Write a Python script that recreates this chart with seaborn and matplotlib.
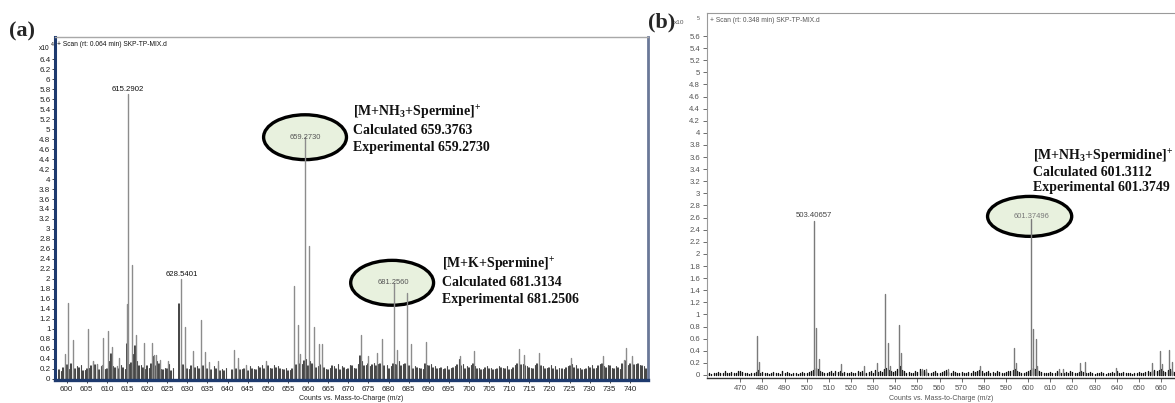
import numpy as np
import pandas as pd
import matplotlib
matplotlib.use("Agg")
import matplotlib.pyplot as plt
import seaborn as sns
from matplotlib.patches import Ellipse
from matplotlib.ticker import FuncFormatter

# ---------------- data: panel (a)  (intensity in units of 1e4) ----------------
a_peak_mz = [599.5, 600.4, 601.5, 605.4, 606.6, 607.6, 608.7, 609.1, 610.2, 611.2,
             612.4, 613.1, 615.29, 615.1, 616.2, 617.2, 619.2, 621.2, 621.8, 622.2,
             623.1, 625.2, 628.54, 629.5, 631.3, 633.5, 634.5, 635.5, 637.5, 641.5,
             642.5, 644.5, 649.5, 656.6, 657.5, 658.1, 659.27, 660.3, 661.5, 662.6,
             663.4, 673.2, 675.0, 677.1, 678.4, 681.26, 682.2, 684.6, 685.5, 689.3,
             697.7, 701.2, 712.4, 713.8, 717.3, 725.4, 733.3, 738.5, 739.1, 740.5]
a_peak_int = [0.50, 1.52, 0.77, 1.00, 0.35, 0.30, 0.28, 0.82, 0.95, 0.63,
              0.25, 0.42, 5.70, 1.50, 2.28, 0.87, 0.72, 0.72, 0.48, 0.48,
              0.38, 0.35, 2.00, 1.04, 0.55, 1.17, 0.53, 0.33, 0.35, 0.57,
              0.42, 0.28, 0.35, 1.85, 1.08, 0.49, 4.84, 2.66, 1.03, 0.69,
              0.70, 0.87, 0.45, 0.52, 0.80, 1.92, 0.58, 1.72, 0.69, 0.73,
              0.45, 0.55, 0.60, 0.48, 0.52, 0.42, 0.45, 0.37, 0.62, 0.45]

a_noise1_mz = list(range(598, 745))
a_noise1 = [0.18, 0.22, 0.28, 0.30, 0.20, 0.22, 0.15, 0.20, 0.25, 0.28,
            0.18, 0.22, 0.20, 0.50, 0.22, 0.20, 0.22, 0.70, 0.32, 0.65,
            0.25, 0.22, 0.25, 0.30, 0.25, 0.30, 0.18, 0.20, 0.15, 0.00,
            1.50, 0.28, 0.20, 0.25, 0.22, 0.20, 0.25, 0.20, 0.18, 0.20,
            0.15, 0.15, 0.00, 0.18, 0.20, 0.18, 0.20, 0.15, 0.20, 0.18,
            0.22, 0.20, 0.25, 0.20, 0.22, 0.20, 0.18, 0.15, 0.20, 0.28,
            0.30, 0.35, 0.25, 0.30, 0.22, 0.28, 0.22, 0.18, 0.25, 0.20,
            0.18, 0.22, 0.20, 0.25, 0.20, 0.45, 0.25, 0.30, 0.28, 0.25,
            0.30, 0.25, 0.20, 0.30, 0.28, 0.25, 0.30, 0.25, 0.20, 0.22,
            0.20, 0.30, 0.25, 0.22, 0.20, 0.22, 0.20, 0.18, 0.22, 0.28,
            0.25, 0.20, 0.22, 0.30, 0.20, 0.18, 0.22, 0.20, 0.18, 0.20,
            0.22, 0.20, 0.18, 0.22, 0.30, 0.28, 0.25, 0.22, 0.20, 0.30,
            0.25, 0.20, 0.22, 0.20, 0.18, 0.20, 0.22, 0.25, 0.22, 0.20,
            0.18, 0.20, 0.22, 0.20, 0.25, 0.30, 0.22, 0.25, 0.20, 0.22,
            0.30, 0.35, 0.30, 0.28, 0.30, 0.25, 0.20]
a_noise2_mz = [m + 0.5 for m in range(598, 744)]
a_noise2 = [0.15, 0.25, 0.20, 0.18, 0.25, 0.28, 0.18, 0.22, 0.35, 0.30,
            0.25, 0.20, 0.35, 0.25, 0.22, 0.28, 0.20, 0.30, 0.50, 0.35,
            0.28, 0.20, 0.22, 0.45, 0.35, 0.20, 0.22, 0.30, 0.22, 0.00,
            0.30, 0.25, 0.20, 0.30, 0.25, 0.22, 0.30, 0.20, 0.25, 0.28,
            0.20, 0.22, 0.00, 0.20, 0.25, 0.20, 0.22, 0.25, 0.20, 0.25,
            0.28, 0.30, 0.22, 0.28, 0.25, 0.20, 0.22, 0.18, 0.25, 0.38,
            0.30, 0.40, 0.35, 0.30, 0.25, 0.28, 0.20, 0.22, 0.25, 0.30,
            0.25, 0.20, 0.28, 0.22, 0.30, 0.35, 0.28, 0.25, 0.32, 0.30,
            0.35, 0.28, 0.25, 0.30, 0.35, 0.30, 0.32, 0.28, 0.25, 0.22,
            0.20, 0.28, 0.30, 0.25, 0.22, 0.20, 0.25, 0.22, 0.25, 0.40,
            0.30, 0.25, 0.28, 0.25, 0.22, 0.20, 0.25, 0.22, 0.20, 0.25,
            0.22, 0.25, 0.20, 0.28, 0.35, 0.30, 0.25, 0.22, 0.28, 0.30,
            0.25, 0.22, 0.28, 0.25, 0.22, 0.20, 0.25, 0.30, 0.28, 0.22,
            0.20, 0.25, 0.28, 0.22, 0.30, 0.25, 0.28, 0.22, 0.25, 0.20,
            0.30, 0.28, 0.35, 0.30, 0.28, 0.25]

a_labels = [(615.29, 5.70, "615.2902"), (628.54, 2.00, "628.5401")]
a_circled = [(659.27, 4.84, "659.2730"), (681.26, 1.92, "681.2560")]

# ---------------- data: panel (b)  (intensity in units of 1e5) ----------------
b_peak_mz = [477.5, 478.3, 503.41, 504.4, 505.5, 515.6, 525.7, 531.8, 535.6, 536.6,
             537.6, 541.8, 542.4, 552.0, 553.7, 564.0, 578.2, 593.8, 594.6, 601.37,
             602.4, 603.4, 604.2, 613.8, 615.8, 623.5, 625.5, 639.5, 655.8, 659.4,
             660.4, 663.8, 664.8]
b_peak_int = [0.64, 0.22, 2.55, 0.78, 0.27, 0.18, 0.14, 0.20, 1.33, 0.52,
              0.14, 0.83, 0.36, 0.10, 0.10, 0.10, 0.15, 0.45, 0.20, 2.58,
              0.76, 0.60, 0.15, 0.10, 0.10, 0.20, 0.22, 0.12, 0.20, 0.40,
              0.18, 0.42, 0.22]
b_noise_mz = list(range(455, 668))
b_noise = [0.02, 0.03, 0.02, 0.04, 0.03, 0.05, 0.03, 0.04, 0.06, 0.03,
           0.04, 0.05, 0.03, 0.04, 0.06, 0.07, 0.05, 0.03, 0.04, 0.02,
           0.03, 0.04, 0.05, 0.08, 0.04, 0.05, 0.03, 0.04, 0.02, 0.03,
           0.05, 0.04, 0.03, 0.02, 0.06, 0.04, 0.05, 0.03, 0.02, 0.04,
           0.03, 0.02, 0.04, 0.05, 0.03, 0.04, 0.05, 0.06, 0.08, 0.12,
           0.10, 0.06, 0.05, 0.03, 0.04, 0.05, 0.06, 0.04, 0.07, 0.05,
           0.06, 0.04, 0.05, 0.03, 0.04, 0.05, 0.03, 0.04, 0.06, 0.05,
           0.07, 0.04, 0.03, 0.05, 0.06, 0.04, 0.08, 0.05, 0.06, 0.05,
           0.10, 0.12, 0.08, 0.06, 0.05, 0.07, 0.10, 0.15, 0.08, 0.06,
           0.04, 0.05, 0.03, 0.04, 0.06, 0.05, 0.10, 0.06, 0.08, 0.05,
           0.03, 0.04, 0.05, 0.06, 0.04, 0.03, 0.05, 0.06, 0.09, 0.05,
           0.04, 0.06, 0.05, 0.04, 0.03, 0.05, 0.04, 0.03, 0.05, 0.04,
           0.06, 0.05, 0.07, 0.08, 0.06, 0.04, 0.05, 0.06, 0.04, 0.05,
           0.04, 0.06, 0.05, 0.04, 0.03, 0.05, 0.06, 0.07, 0.08, 0.10,
           0.06, 0.05, 0.04, 0.03, 0.05, 0.06, 0.08, 0.12, 0.10, 0.08,
           0.06, 0.05, 0.04, 0.03, 0.04, 0.05, 0.03, 0.04, 0.06, 0.05,
           0.04, 0.03, 0.05, 0.04, 0.06, 0.05, 0.03, 0.04, 0.05, 0.06,
           0.05, 0.04, 0.03, 0.05, 0.04, 0.02, 0.03, 0.04, 0.05, 0.03,
           0.02, 0.03, 0.04, 0.05, 0.03, 0.06, 0.04, 0.03, 0.05, 0.04,
           0.03, 0.04, 0.02, 0.03, 0.04, 0.05, 0.03, 0.04, 0.05, 0.06,
           0.05, 0.06, 0.08, 0.07, 0.09, 0.10, 0.06, 0.05, 0.08, 0.10,
           0.07, 0.05, 0.04]
b_labels = [(503.41, 2.55, "503.40657")]
b_circled = [(601.37, 2.58, "601.37496")]

a_xticks = list(range(600, 741, 5))
a_yticks = [round(0.2 * i, 1) for i in range(0, 33)]
b_xticks = list(range(470, 661, 10))
b_yticks = [round(0.2 * i, 1) for i in range(0, 29)]

# ---------------- style ----------------
sns.set_theme(style="white")
plt.rcParams["font.family"] = ["Liberation Sans", "DejaVu Sans"]
plt.rcParams["mathtext.fontset"] = "custom"
plt.rcParams["mathtext.rm"] = "Liberation Serif:bold"
plt.rcParams["mathtext.it"] = "Liberation Serif:bold"
plt.rcParams["mathtext.bf"] = "Liberation Serif:bold"

W, H = 1175, 403
fig = plt.figure(figsize=(W / 100, H / 100), dpi=100)
fig.patch.set_facecolor("white")


def rect(l, t, r, b):
    return [l / W, 1 - b / H, (r - l) / W, (b - t) / H]


def fy(ypx):
    return 1 - ypx / H


def sticks(ax, mz, inten, color, lw, z=2):
    n = len(mz)
    df = pd.DataFrame({
        "mz": np.repeat(np.asarray(mz, float), 2),
        "I": np.column_stack([np.zeros(n), np.asarray(inten, float)]).ravel(),
        "pid": np.repeat(np.arange(n), 2),
    })
    sns.lineplot(data=df, x="mz", y="I", units="pid", estimator=None, sort=False,
                 color=color, lw=lw, ax=ax, legend=False, zorder=z)


fmt = FuncFormatter(lambda v, p: f"{v:g}")

# ---------------- panel (a) ----------------
axA = fig.add_axes(rect(55, 37, 648, 380))
sticks(axA, a_noise1_mz, a_noise1, "#111111", 1.1)
sticks(axA, a_noise2_mz, a_noise2, "#4a4a4a", 0.8)
sticks(axA, a_peak_mz, a_peak_int, "#8c8c8c", 1.0, z=2.5)
axA.set_xlim(597.1, 744.5)
axA.set_ylim(-0.03, 6.85)
axA.set_xticks(a_xticks)
axA.set_yticks(a_yticks)
axA.yaxis.set_major_formatter(fmt)
axA.tick_params(axis="both", labelsize=5.8, colors="#222222", length=2.5, width=0.6,
                pad=1.5, left=True, bottom=True)
axA.tick_params(axis="y", pad=0.8)
axA.set_xlabel("")
axA.set_ylabel("")
axA.spines["top"].set_color("#a8a8a8")
axA.spines["top"].set_linewidth(1.0)
axA.spines["left"].set_color("#1e3a6e")
axA.spines["left"].set_linewidth(2.2)
axA.spines["bottom"].set_color("#1e3a6e")
axA.spines["bottom"].set_linewidth(2.4)
axA.spines["right"].set_color("#6a7898")
axA.spines["right"].set_linewidth(2.0)

for x, y, t in a_labels:
    axA.text(x, y + 0.02, t, ha="center", va="bottom", fontsize=5.6, color="#111111", zorder=5)
for (x, y, t), cx in zip(a_circled, [659.25, 680.9]):
    axA.add_patch(Ellipse((cx, y), 20.6, 0.9, facecolor="#e8f1de", edgecolor="black",
                          lw=2.4, zorder=1.5))
    axA.text(x, y, t, ha="center", va="center", fontsize=5.4, color="#555555", zorder=5)

# ---------------- panel (b) ----------------
axB = fig.add_axes(rect(707, 13, 1176, 378))
sticks(axB, b_noise_mz, b_noise, "#111111", 1.0)
sticks(axB, b_peak_mz, b_peak_int, "#7a7a7a", 1.0, z=2.5)
axB.set_xlim(455.0, 666.8)
axB.set_ylim(-0.05, 5.98)
axB.set_xticks(b_xticks)
axB.set_yticks(b_yticks)
axB.yaxis.set_major_formatter(fmt)
axB.tick_params(axis="both", labelsize=5.6, colors="#555555", length=3, width=0.6,
                pad=2, left=True, bottom=True)
axB.set_xlabel("")
axB.set_ylabel("")
axB.spines["right"].set_visible(False)
axB.spines["top"].set_color("#9a9a9a")
axB.spines["top"].set_linewidth(0.8)
axB.spines["left"].set_color("#9a9a9a")
axB.spines["left"].set_linewidth(0.8)
axB.spines["bottom"].set_color("#333333")
axB.spines["bottom"].set_linewidth(1.0)

for x, y, t in b_labels:
    axB.text(x, y + 0.02, t, ha="center", va="bottom", fontsize=5.6, color="#444444", zorder=5)
for x, y, t in b_circled:
    axB.add_patch(Ellipse((600.7, y + 0.04), 38.0, 0.66, facecolor="#e8f1de",
                          edgecolor="black", lw=2.4, zorder=1.5))
    axB.text(x, y + 0.04, t, ha="center", va="center", fontsize=5.4, color="#777777", zorder=5)

# ---------------- figure-level texts ----------------
serif = ["Liberation Serif", "DejaVu Serif"]
fig.text(22 / W, fy(31), "(a)", fontsize=16, fontweight="bold", family=serif,
         ha="center", va="center")
fig.text(662 / W, fy(22), "(b)", fontsize=16, fontweight="bold", family=serif,
         ha="center", va="center")

fig.text(50 / W, fy(48), "x10", fontsize=4.8, ha="right", va="center", color="#111111")
fig.text(51 / W, fy(44), "4", fontsize=3.8, ha="left", va="center", color="#111111")
fig.text(57 / W, fy(45), "+ Scan (rt: 0.064 min) SKP-TP-MIX.d", fontsize=4.8,
         ha="left", va="center", color="#111111")

fig.text(684 / W, fy(23), "x10", fontsize=4.6, ha="right", va="center", color="#555555")
fig.text(697 / W, fy(19), "5", fontsize=3.8, ha="left", va="center", color="#555555")
fig.text(710 / W, fy(20), "+ Scan (rt: 0.348 min) SKP-TP-MIX.d", fontsize=4.8,
         ha="left", va="center", color="#555555")

fig.text(351 / W, fy(399), "Counts vs. Mass-to-Charge (m/z)", fontsize=5.0,
         ha="center", va="center", color="#222222")
fig.text(941 / W, fy(399), "Counts vs. Mass-to-Charge (m/z)", fontsize=5.0,
         ha="center", va="center", color="#555555")

ann = [
    (353, [113, 130, 147], [r"[M+NH$_{3}$+Spermine]$^{+}$", "Calculated 659.3763", "Experimental 659.2730"]),
    (442, [265, 282, 299], [r"[M+K+Spermine]$^{+}$", "Calculated 681.3134", "Experimental 681.2506"]),
    (1033, [157, 172, 187], [r"[M+NH$_{3}$+Spermidine]$^{+}$", "Calculated 601.3112", "Experimental 601.3749"]),
]
for x, ys, lines in ann:
    for y, s in zip(ys, lines):
        fig.text(x / W, fy(y), s, fontsize=10, fontweight="bold", family=serif,
                 ha="left", va="center", color="#111111")

fig.savefig("out.png", dpi=100, facecolor="white")
